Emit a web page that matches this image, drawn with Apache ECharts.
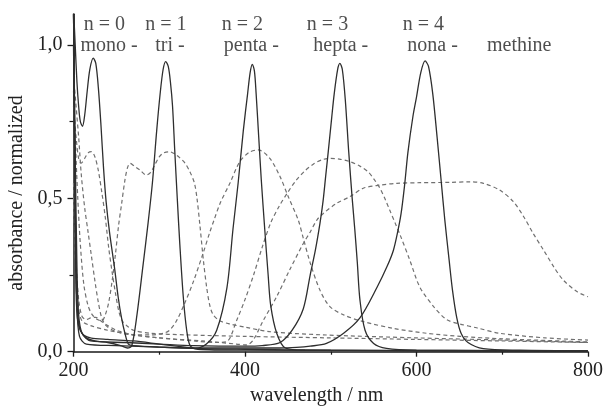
<!DOCTYPE html>
<html><head><meta charset="utf-8">
<script src="https://cdn.jsdelivr.net/npm/echarts@6/dist/echarts.min.js"></script>
<style>html,body{margin:0;padding:0;background:#fff}#c{width:606px;height:408px}</style>
</head><body><div id="c"></div>
<script>
// ---------- DATA (wavelength nm, normalized absorbance) ----------
const monoSolid = [[200,1.12],[202,1.0],[204,0.88],[206,0.8],[208,0.75],[210.5,0.735],[213,0.77],[216,0.85],[219,0.92],[223,0.957],[226,0.94],[229,0.86],[232,0.74],[235,0.6],[238,0.49],[242,0.39],[248,0.27],[252,0.18],[256,0.11],[260,0.06],[264,0.025],[270,0.02],[300,0.015],[350,0.01],[400,0.008],[500,0.005],[800,0.003]];
const triSolid = [[200,1.12],[201,0.85],[202,0.45],[203.5,0.2],[205,0.12],[208,0.07],[215,0.045],[225,0.035],[240,0.03],[255,0.02],[263,0.012],[268,0.02],[274,0.12],[281,0.28],[287,0.42],[292,0.55],[297,0.72],[301,0.84],[304.5,0.92],[307.5,0.946],[310.5,0.93],[313,0.88],[315.5,0.8],[318,0.66],[321,0.5],[324,0.35],[328,0.18],[332,0.07],[336,0.02],[345,0.008],[400,0.005],[800,0.002]];
const pentaSolid = [[200,1.12],[201.5,0.6],[203,0.2],[205,0.1],[210,0.06],[220,0.045],[240,0.04],[270,0.035],[300,0.025],[330,0.015],[342,0.011],[355,0.025],[367,0.07],[379,0.21],[386,0.4],[392,0.55],[398,0.72],[403,0.84],[406,0.91],[408.5,0.937],[411,0.915],[413,0.84],[416,0.7],[419,0.56],[423,0.4],[427,0.25],[430,0.15],[437,0.06],[447,0.012],[470,0.005],[800,0.002]];
const heptaSolid = [[200,1.1],[202,0.65],[204,0.28],[206,0.12],[210,0.06],[220,0.035],[260,0.03],[300,0.025],[340,0.02],[400,0.018],[420,0.02],[441,0.03],[455,0.07],[468,0.14],[476,0.25],[482,0.33],[487.5,0.42],[491,0.49],[494,0.57],[497,0.65],[501,0.76],[504,0.84],[508,0.92],[510.7,0.94],[513.5,0.92],[517,0.82],[521,0.65],[525,0.5],[528,0.4],[531,0.29],[534,0.17],[540,0.07],[550,0.027],[565,0.011],[600,0.005],[800,0.002]];
const nonaSolid = [[200,1.0],[202,0.5],[204,0.15],[207,0.05],[215,0.025],[250,0.02],[300,0.015],[350,0.012],[400,0.012],[440,0.012],[460,0.014],[476,0.018],[495,0.027],[515,0.06],[534,0.11],[554,0.21],[566,0.28],[573,0.33],[578,0.39],[582,0.45],[586,0.54],[590,0.65],[596,0.77],[600,0.83],[605,0.91],[610,0.948],[614,0.93],[619,0.84],[624,0.7],[629,0.55],[633,0.43],[638,0.3],[642,0.2],[647,0.11],[652,0.06],[660,0.03],[678,0.01],[720,0.005],[800,0.003]];

const monoDashed = [[200,0.8],[203,0.7],[206,0.63],[209,0.615],[213,0.63],[217,0.648],[221,0.652],[225,0.635],[229,0.59],[233,0.52],[237,0.44],[241,0.34],[245,0.26],[249,0.19],[253,0.13],[257,0.1],[262,0.085],[270,0.07],[290,0.06],[330,0.055],[400,0.05],[500,0.045],[600,0.04],[700,0.035],[800,0.03]];
const triDashed = [[200,0.85],[202,0.7],[205,0.5],[208,0.35],[212,0.22],[217,0.15],[222,0.12],[228,0.105],[233,0.1],[237,0.12],[241,0.16],[245,0.23],[249,0.32],[252.5,0.41],[256,0.48],[260,0.56],[263,0.6],[266,0.614],[271,0.605],[277.6,0.592],[285,0.576],[290,0.585],[295,0.61],[300,0.635],[305,0.648],[312,0.652],[318,0.645],[324,0.632],[330,0.615],[336,0.585],[341,0.55],[344,0.5],[347.5,0.41],[351.4,0.3],[355.3,0.21],[359,0.15],[363,0.12],[371,0.1],[383,0.09],[400,0.08],[430,0.065],[490,0.055],[600,0.045],[700,0.038],[800,0.03]];
const pentaDashed = [[200,0.9],[203,0.8],[206,0.7],[209,0.58],[213,0.47],[217,0.39],[221,0.31],[225,0.23],[229,0.16],[233,0.11],[238,0.085],[250,0.065],[270,0.055],[290,0.055],[305,0.06],[312,0.07],[320,0.1],[330,0.16],[340,0.23],[351,0.32],[359,0.39],[364,0.43],[371,0.484],[382.5,0.55],[394,0.62],[405,0.65],[415.5,0.658],[429,0.63],[441,0.57],[450.5,0.505],[462,0.43],[468,0.37],[476,0.29],[487.5,0.2],[499,0.147],[515,0.12],[538,0.098],[573,0.076],[612,0.06],[651,0.05],[700,0.042],[800,0.032]];
const heptaDashed = [[200,0.55],[203,0.3],[206,0.17],[210,0.115],[215,0.105],[220,0.11],[226,0.112],[232,0.1],[240,0.085],[250,0.07],[270,0.055],[300,0.045],[340,0.035],[370,0.03],[380,0.035],[390,0.1],[400,0.17],[410,0.25],[420,0.34],[430,0.42],[440,0.475],[450,0.52],[460,0.56],[470,0.59],[480,0.612],[490,0.626],[499,0.63],[510,0.628],[522,0.62],[534,0.605],[544,0.585],[551,0.56],[557,0.535],[563,0.5],[569,0.46],[575,0.42],[581,0.38],[592,0.3],[604,0.21],[620,0.147],[635,0.105],[651,0.09],[670,0.078],[697,0.06],[750,0.045],[800,0.038]];
const nonaDashed = [[200,0.5],[203,0.25],[206,0.14],[210,0.1],[220,0.085],[240,0.07],[270,0.055],[300,0.045],[350,0.035],[390,0.025],[402,0.022],[410,0.04],[421,0.1],[437,0.18],[452,0.266],[468,0.353],[476,0.39],[484,0.43],[491,0.45],[507,0.484],[522,0.505],[538,0.533],[557,0.543],[577,0.549],[604,0.551],[639,0.552],[662,0.554],[678,0.549],[697,0.527],[713,0.489],[725,0.44],[736,0.386],[748,0.332],[760,0.277],[771,0.234],[787,0.196],[800,0.179]];

// tick labels
const xTickValues = [200, 400, 600, 800];
const xMinorTickValues = [300, 500, 700];
const yTickValues = [0, 0.5, 1.0];
const yTickLabels = ['0,0', '0,5', '1,0'];
const yMinorTickValues = [0.25, 0.75];

// annotation texts
const nTexts = ['n = 0', 'n = 1', 'n = 2', 'n = 3', 'n = 4'];
const prefixTexts = ['mono -', 'tri -', 'penta -', 'hepta -', 'nona -', 'methine'];

// ---------- LAYOUT (annotation anchors in data units) ----------
const nAnchorNm = [236, 307.7, 397, 496.2, 607.9];
const prefixAnchorNm = [241.4, 312.5, 407.4, 511.7, 618.7, 719.8];
const nRowAbs = 1.065;
const prefixRowAbs = 0.997;

const FONT = "'Liberation Serif', 'DejaVu Serif', serif";
const solidStyle = {color: '#2e2e2e', width: 1.3, type: 'solid'};
const dashStyle = {color: '#707070', width: 1.2, type: [4, 3]};

function lineSeries(name, data, style) {
  return {name, type: 'line', data, symbol: 'none', showSymbol: false, smooth: 0.3,
    lineStyle: style, itemStyle: {color: style.color}, clip: true, silent: true,
    xAxisIndex: 0, yAxisIndex: 0, animation: false};
}

const annData = nTexts.map((t, i) => [nAnchorNm[i], nRowAbs, t])
  .concat(prefixTexts.map((t, i) => [prefixAnchorNm[i], prefixRowAbs, t]));

const axisLine = {show: true, lineStyle: {color: '#1a1a1a', width: 1.5}};
const chart = echarts.init(document.getElementById('c'), null, {renderer: 'canvas'});
chart.setOption({
  animation: false,
  backgroundColor: '#fff',
  grid: {left: 73.5, right: 18, top: 14.3, bottom: 56.3, containLabel: false, outerBoundsMode: 'none'},
  xAxis: [{
    type: 'value', min: 200, max: 800, interval: 200, position: 'bottom',
    axisLine, splitLine: {show: false},
    axisTick: {show: true, length: 5, inside: false, lineStyle: {color: '#1a1a1a', width: 1.3}, customValues: xTickValues},
    minorTick: {show: false},
    axisLabel: {show: true, margin: 9, color: '#222', fontFamily: FONT, fontSize: 20, customValues: xTickValues},
    name: 'wavelength / nm', nameLocation: 'middle', nameGap: 31,
    nameTextStyle: {color: '#222', fontFamily: FONT, fontSize: 20, padding: [0, 28, 0, 0]}
  }, {
    type: 'value', min: 200, max: 800, interval: 100, position: 'bottom', offset: 0,
    axisLine: {show: false}, splitLine: {show: false}, axisLabel: {show: false},
    axisTick: {show: true, length: 3, inside: false, lineStyle: {color: '#1a1a1a', width: 1.2}, customValues: xMinorTickValues}
  }],
  yAxis: [{
    type: 'value', min: 0, max: 1.1, interval: 0.5, position: 'left',
    axisLine, splitLine: {show: false},
    axisTick: {show: true, length: 6, inside: false, lineStyle: {color: '#1a1a1a', width: 1.3}, customValues: yTickValues},
    axisLabel: {show: true, margin: 11, color: '#222', fontFamily: FONT, fontSize: 20, customValues: yTickValues,
      formatter: v => { const i = yTickValues.findIndex(t => Math.abs(t - v) < 1e-6); return i >= 0 ? yTickLabels[i] : ''; }},
    name: 'absorbance / normalized', nameLocation: 'middle', nameGap: 41, nameRotate: 90,
    nameTextStyle: {color: '#222', fontFamily: FONT, fontSize: 20, padding: [0, 20, 0, 0]}
  }, {
    type: 'value', min: 0, max: 1.1, interval: 0.25, position: 'left', offset: 0,
    axisLine: {show: false}, splitLine: {show: false}, axisLabel: {show: false},
    axisTick: {show: true, length: 4, inside: false, lineStyle: {color: '#1a1a1a', width: 1.2}, customValues: yMinorTickValues}
  }],
  series: [
    lineSeries('mono dashed', monoDashed, dashStyle),
    lineSeries('tri dashed', triDashed, dashStyle),
    lineSeries('penta dashed', pentaDashed, dashStyle),
    lineSeries('hepta dashed', heptaDashed, dashStyle),
    lineSeries('nona dashed', nonaDashed, dashStyle),
    lineSeries('mono', monoSolid, solidStyle),
    lineSeries('tri', triSolid, solidStyle),
    lineSeries('penta', pentaSolid, solidStyle),
    lineSeries('hepta', heptaSolid, solidStyle),
    lineSeries('nona', nonaSolid, solidStyle),
    {
      type: 'scatter', data: annData, symbolSize: 0, silent: true, clip: false, animation: false,
      label: {show: true, position: 'inside', formatter: p => p.data[2],
        color: '#222', fontFamily: FONT, fontSize: 20}
    }
  ]
});
</script></body></html>
